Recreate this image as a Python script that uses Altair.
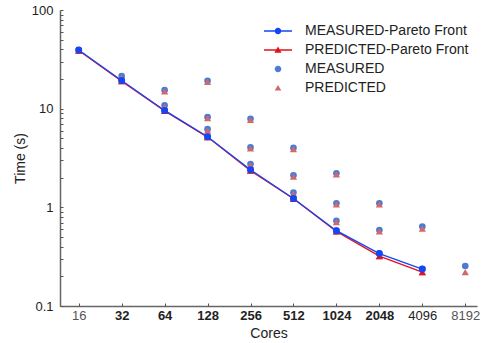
import altair as alt
import pandas as pd

# ---- data ----
cores_all = [16, 32, 32, 64, 64, 64, 128, 128, 128, 128,
             256, 256, 256, 256, 512, 512, 512, 512,
             1024, 1024, 1024, 1024, 2048, 2048, 2048, 4096, 4096, 8192]
measured_all = [39.3, 21.4, 19.3, 15.4, 10.8, 9.6, 19.2, 8.2, 6.2, 5.2,
                7.9, 4.05, 2.75, 2.4, 4.0, 2.11, 1.41, 1.23,
                2.21, 1.1, 0.73, 0.58, 1.1, 0.59, 0.34, 0.64, 0.237, 0.254]
predicted_all = [38.8, 20.8, 19.0, 15.0, 10.5, 9.5, 18.7, 8.0, 6.0, 5.15,
                 7.7, 3.95, 2.68, 2.35, 3.9, 2.05, 1.37, 1.22,
                 2.16, 1.07, 0.71, 0.57, 1.07, 0.57, 0.32, 0.61, 0.22, 0.22]

cores_front = [16, 32, 64, 128, 256, 512, 1024, 2048, 4096]
measured_front = [39.3, 19.3, 9.6, 5.2, 2.4, 1.23, 0.58, 0.34, 0.237]
predicted_front = [38.8, 19.0, 9.5, 5.15, 2.35, 1.22, 0.57, 0.32, 0.22]

series_names = ["MEASURED-Pareto Front", "PREDICTED-Pareto Front", "MEASURED", "PREDICTED"]
series_colors = ["#1446f5", "#e3121c", "#4b7bd3", "#d2686a"]

x_ticks = [16, 32, 64, 128, 256, 512, 1024, 2048, 4096, 8192]
y_major = [0.1, 1, 10, 100]
y_minor = [0.1, 0.2, 0.3, 0.4, 0.5, 0.6, 0.7, 0.8, 0.9,
           1, 2, 3, 4, 5, 6, 7, 8, 9,
           10, 20, 30, 40, 50, 60, 70, 80, 90, 100]

rows = []
for c, v in zip(cores_all, measured_all):
    rows.append({"cores": c, "time": v, "series": "MEASURED"})
for c, v in zip(cores_all, predicted_all):
    rows.append({"cores": c, "time": v, "series": "PREDICTED"})
for c, v in zip(cores_front, measured_front):
    rows.append({"cores": c, "time": v, "series": "MEASURED-Pareto Front"})
for c, v in zip(cores_front, predicted_front):
    rows.append({"cores": c, "time": v, "series": "PREDICTED-Pareto Front"})
df = pd.DataFrame(rows)

W, H = 417, 296
FONT = "Liberation Sans"

xscale = alt.Scale(type="log", base=2, domain=[11.83, 9900], nice=False)
yscale = alt.Scale(type="log", base=10, domain=[0.1, 100], nice=False)

axis_none = None


def xy(xaxis, yaxis):
    return dict(
        x=alt.X("cores:Q", scale=xscale, axis=xaxis),
        y=alt.Y("time:Q", scale=yscale, axis=yaxis),
    )


x_main = alt.Axis(values=x_ticks, format="d", ticks=False, labelPadding=3,
                  title="Cores", titlePadding=4, domainColor="#666", domainWidth=1.5,
                  labelFontWeight=alt.condition("datum.value >= 32 && datum.value <= 2048",
                                                alt.value("bold"), alt.value("normal")),
                  labelColor=alt.condition("datum.value == 16 || datum.value == 8192",
                                           alt.value("#555555"), alt.value("#222222")))
y_main = alt.Axis(values=y_major, format="~g", ticks=False, labelPadding=7,
                  title="Time (s)", titlePadding=4, domainColor="#666", domainWidth=1.5)
x_in = alt.Axis(orient="top", offset=-H, values=x_ticks, labels=False, domain=False,
                tickSize=3, tickWidth=1, tickColor="#555", title="")
y_in = alt.Axis(orient="right", offset=-W, values=y_minor, labels=False, domain=False,
                tickSize=3, tickWidth=1, tickColor="#555", title="")

base = alt.Chart(df)

scatter_m = base.transform_filter(alt.datum.series == "MEASURED").mark_point(
    shape="circle", filled=True, size=44, opacity=1, color=series_colors[2]
).encode(**xy(x_main, y_main))

scatter_p = base.transform_filter(alt.datum.series == "PREDICTED").mark_point(
    shape="triangle-up", filled=True, size=52, opacity=1, color=series_colors[3]
).encode(**xy(x_in, y_in))

front_p = base.transform_filter(alt.datum.series == "PREDICTED-Pareto Front")
front_p_line = front_p.mark_line(color=series_colors[1], strokeWidth=1.3).encode(
    **xy(axis_none, axis_none), order="cores:Q")
front_p_pts = front_p.mark_point(shape="triangle-up", filled=True, size=52, opacity=1,
                                 color=series_colors[1]).encode(**xy(axis_none, axis_none))

front_m = base.transform_filter(alt.datum.series == "MEASURED-Pareto Front")
front_m_line = front_m.mark_line(color=series_colors[0], strokeWidth=1.3).encode(
    **xy(axis_none, axis_none), order="cores:Q")
front_m_pts = front_m.mark_point(shape="circle", filled=True, size=48, opacity=1,
                                 color=series_colors[0]).encode(**xy(axis_none, axis_none))

# legend symbols: line+marker for the fronts, marker only for the scatters
line_circle = "M-2.8,-0.13H2.8V0.13H-2.8Z M0.66,0A0.66,0.66,0,1,1,-0.66,0A0.66,0.66,0,1,1,0.66,0Z"
line_tri = "M-2.8,-0.13H2.8V0.13H-2.8Z M0,-0.68L0.72,0.56L-0.72,0.56Z"
dot = "M0.66,0A0.66,0.66,0,1,1,-0.66,0A0.66,0.66,0,1,1,0.66,0Z"
tri = "M0,-0.62L0.66,0.52L-0.66,0.52Z"

legend_layer = base.transform_filter(alt.datum.time < 0).mark_point(
    filled=True, opacity=1
).encode(
    **xy(axis_none, axis_none),
    color=alt.Color("series:N",
                    scale=alt.Scale(domain=series_names, range=series_colors),
                    legend=alt.Legend(title="", orient="none", legendX=211, legendY=14,
                                      labelOffset=20, rowPadding=5, padding=0,
                                      labelLimit=300,
                                      labelFont=FONT, labelFontSize=14, labelColor="#222",
                                      symbolStrokeWidth=0, symbolSize=100)),
    shape=alt.Shape("series:N",
                    scale=alt.Scale(domain=series_names,
                                    range=[line_circle, line_tri, dot, tri])),
)

chart = alt.layer(
    scatter_m, scatter_p, front_p_line, front_p_pts, front_m_line, front_m_pts, legend_layer
).resolve_axis(x="independent", y="independent").properties(
    width=W, height=H,
    autosize=alt.AutoSizeParams(type="none"),
    padding={"left": 60, "top": 10, "right": 8, "bottom": 37},
).configure_view(stroke=None).configure_axis(
    grid=False, labelFont=FONT, labelFontSize=13, labelColor="#222",
    titleFont=FONT, titleFontSize=14, titleFontWeight="normal", titleColor="#222",
)

chart.save("out.html", embed_options={"renderer": "svg", "actions": False})
